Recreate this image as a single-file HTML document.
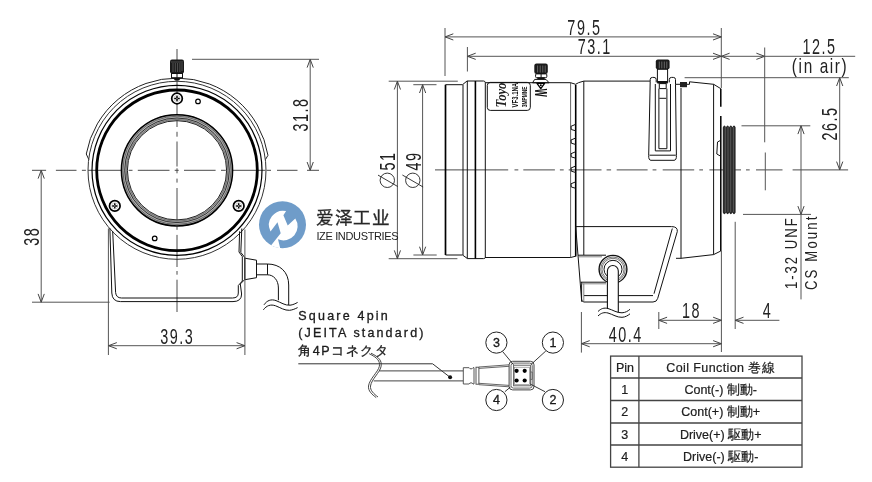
<!DOCTYPE html>
<html lang="ja"><head><meta charset="utf-8">
<style>
html,body{margin:0;padding:0;background:#fff;}
body{width:872px;height:482px;overflow:hidden;position:relative;font-family:"Liberation Sans",sans-serif;}
svg{position:absolute;left:0;top:0;will-change:transform;}
.d{stroke:#555;stroke-width:1;fill:none;}
.o{stroke:#111;stroke-width:1;fill:none;}
.c{stroke:#444;stroke-width:1;fill:none;}
.t{font-family:"Liberation Sans",sans-serif;fill:#222;}
</style></head><body>
<svg width="872" height="482" viewBox="0 0 872 482">
<defs>
<marker id="a" viewBox="-9 -4 10 8" markerWidth="10" markerHeight="8" refX="0" refY="0" orient="auto-start-reverse" markerUnits="userSpaceOnUse">
<path d="M-8.3,-3.1 L0,0 L-8.3,3.1" fill="none" stroke="#444" stroke-width="1"/>
</marker>
</defs>
<!-- CENTER LINES -->
<path d="M32,170.3H46.1M55.9,170.3H76.5M81.9,170.3H85.9M88,170.3H121M128.6,170.3H132.5M137.8,170.3H169.5M174.7,170.3H178.7M184,170.3H215.6M221,170.3H225.5M225.5,170.3H265.5M266.6,170.3H271M277,170.3H297.5M307,170.3H319M177,49V127M177,131.8V136.7M177,141.5V166.5M177,168.3V173.3M177,178.6V182.6M177,188V225M177,226.5V229.8M177,234.9V267M177,271V274.7M177,279.7V312M435,169.9H508.2M514.5,169.9H518.3M523.3,169.9H554.9M559.9,169.9H563.7M568.7,169.9H601.5M606.6,169.9H611.1M616.7,169.9H647.6M652.6,169.9H656.4M662.7,169.9H694.2M699.3,169.9H703M709.4,169.9H741M746,169.9H749.7M756,169.9H782.5M792.6,169.9H848.1" stroke="#4a4a4a" stroke-width="1" fill="none"/>
<!-- FRONT VIEW -->
<g id="front">
<!-- center lines -->
<!-- shroud -->
<path d="M 88.8,159.5 L 86.25,154 A 92.2 92.2 0 0 1 267.97,155.3 L 265.4,159.6" fill="none" stroke="#222" stroke-width="1"/>
<!-- body circles -->
<circle cx="177" cy="170.3" r="89" fill="none" stroke="#333" stroke-width="1"/>
<circle cx="177" cy="170.3" r="85" fill="none" stroke="#000" stroke-width="1.2"/>
<circle cx="177" cy="170.3" r="80.3" fill="none" stroke="#000" stroke-width="2.8"/>
<!-- lens ring -->
<circle cx="177" cy="170.3" r="52.8" fill="none" stroke="#b4b4b4" stroke-width="6.4"/>
<circle cx="177" cy="170.3" r="55.6" fill="none" stroke="#000" stroke-width="1.5"/>
<circle cx="177" cy="170.3" r="54.1" fill="none" stroke="#444" stroke-width="0.7"/>
<circle cx="177" cy="170.3" r="52.3" fill="none" stroke="#222" stroke-width="0.9"/>
<circle cx="177" cy="170.3" r="50.9" fill="none" stroke="#555" stroke-width="0.7"/>
<circle cx="177" cy="170.3" r="49.6" fill="none" stroke="#222" stroke-width="1"/>
<!-- knob -->
<rect x="170" y="59.5" width="14" height="14" rx="2" fill="#1a1a1a"/>
<g stroke="#777" stroke-width="0.6"><line x1="173" y1="63" x2="173" y2="72"/><line x1="175.3" y1="63" x2="175.3" y2="72"/><line x1="177.6" y1="63" x2="177.6" y2="72"/><line x1="179.9" y1="63" x2="179.9" y2="72"/><line x1="182" y1="63" x2="182" y2="71"/></g>
<rect x="171.5" y="73.5" width="11" height="4.2" fill="#fff" stroke="#111" stroke-width="1"/><line x1="177" y1="73.5" x2="177" y2="77.7" stroke="#111" stroke-width="1"/>
<line x1="171" y1="62" x2="183" y2="62" stroke="#666" stroke-width="0.7"/>
<path d="M173,78 L181,78 L179,80.5 L175,80.5 Z" fill="#111"/>
<!-- screws -->
<circle cx="177" cy="98.5" r="5.3" fill="#fff" stroke="#000" stroke-width="1.7"/><path d="M174.8,98.5H179.2M177,96.3V100.7" stroke="#000" stroke-width="1.5" stroke-linecap="round"/><circle cx="177" cy="98.5" r="3.1" fill="none" stroke="#999" stroke-width="0.5"/><circle cx="177" cy="98.5" r="0.55" fill="#fff"/>
<circle cx="114.8" cy="205.9" r="5.3" fill="#fff" stroke="#000" stroke-width="1.7"/><path d="M112.6,205.9H117.0M114.8,203.70000000000002V208.1" stroke="#000" stroke-width="1.5" stroke-linecap="round"/><circle cx="114.8" cy="205.9" r="3.1" fill="none" stroke="#999" stroke-width="0.5"/><circle cx="114.8" cy="205.9" r="0.55" fill="#fff"/>
<circle cx="238.7" cy="205.9" r="5.3" fill="#fff" stroke="#000" stroke-width="1.7"/><path d="M236.5,205.9H240.89999999999998M238.7,203.70000000000002V208.1" stroke="#000" stroke-width="1.5" stroke-linecap="round"/><circle cx="238.7" cy="205.9" r="3.1" fill="none" stroke="#999" stroke-width="0.5"/><circle cx="238.7" cy="205.9" r="0.55" fill="#fff"/>
<circle cx="198" cy="101.4" r="2.3" fill="#fff" stroke="#000" stroke-width="1.2"/>
<circle cx="154.7" cy="238.4" r="2.3" fill="#fff" stroke="#000" stroke-width="1.2"/>
<!-- bracket -->
<path class="o" d="M109.9,228.3 L111.8,293 Q112.2,301.6 120.5,301.6 L233,301.6 Q241.6,301.6 241.6,294 L240.3,284 L244.6,279.7 L244.6,257.3 L240.8,252.4 L241.8,228.5"/>
<path class="o" d="M112.7,231.3 L115.6,292.5 Q116.2,298 121.5,298 L232.5,298 Q238.3,298 238.3,293 L238.3,285.5 L242.3,281 L242.3,256.5 L239,252 L239.6,231.3"/>
<!-- cable -->
<path d="M244.9,258.2 L256.5,260.2 L256.5,277.7 L244.9,279.7 Z" fill="#fff" stroke="#111" stroke-width="1"/>
<path d="M256.5,264 L267.5,264 M256.5,274.8 L267.5,274.8 M267.5,264 L267.5,274.8" class="o"/>
<path class="o" d="M267.5,264 C280,264 288.7,272 288.7,285 L288.7,305"/>
<path class="o" d="M267.5,274.8 C273.5,274.8 278.4,280 278.4,288 L278.4,300.2"/>
<path class="o" d="M264,304.8 C267,300.5 271,298.8 276,300.6 C281,302.5 285,305.6 290,305.2 C293,304.9 295.5,303.6 297.6,302.4"/>
<path class="o" d="M263.4,309.8 C266.5,305.6 270.6,304 275.6,305.8 C280.6,307.7 284.6,310.6 289.6,310.3 C292.6,310 295.2,308.8 297.6,307.6"/>
</g>

<!-- SIDE VIEW -->
<g id="side">
<!-- center line -->
<!-- front cap -->
<path d="M445.5,255 L445.5,84.7" stroke="#000" stroke-width="1.7" fill="none"/>
<path class="o" d="M445.5,84.7 L462.5,84.7 L467,81 L483.5,81 Q485.2,81 485.3,82.7 M445.5,255 L462.5,255 L467.5,258.6 L483.5,258.6 Q485.2,258.6 485.3,257.4"/>
<path class="o" d="M463,84.7 V255 M467.3,81 V258.6 M485.3,82.7 V257.4"/>
<path d="M475.4,81 V258.6" stroke="#000" stroke-width="1.6" fill="none"/>
<!-- label -->
<rect x="487.3" y="82.4" width="43" height="28" rx="3" fill="#fff" stroke="#111" stroke-width="1"/>
<!-- knob 1 -->
<rect x="534.3" y="63.6" width="13.5" height="10.3" rx="2.2" fill="#1a1a1a"/>
<g stroke="#777" stroke-width="0.8"><line x1="537.6" y1="65.5" x2="537.6" y2="72.5"/><line x1="540.2" y1="65.5" x2="540.2" y2="72.5"/><line x1="542.8" y1="65.5" x2="542.8" y2="72.5"/><line x1="545.2" y1="65.5" x2="545.2" y2="72.5"/></g>
<rect x="535.6" y="73.9" width="11.2" height="3.8" rx="1" fill="#fff" stroke="#111" stroke-width="1"/>
<line x1="541.1" y1="74" x2="541.1" y2="77.6" stroke="#111" stroke-width="1"/>
<rect x="537.3" y="77.5" width="7.4" height="2" fill="#111"/>
<path d="M534.7,79.4 L546,79.4 L549.1,82.8 L532.5,82.8 Z" fill="#fff" stroke="#111" stroke-width="1"/>
<path d="M537,83.3 L544.6,83.3 L540.8,88.6 Z" fill="#fff" stroke="#000" stroke-width="1.3" stroke-linejoin="round"/>
<circle cx="540.8" cy="85.3" r="1" fill="#000"/>
<text transform="translate(534.6,92.7) rotate(90) scale(0.5,1)" text-anchor="middle" font-size="17" font-weight="bold" fill="#111" font-family="Liberation Sans">W</text>
<!-- label content -->
<text transform="translate(505.5,95) rotate(-90)" x="-12.4" y="0" textLength="24.8" lengthAdjust="spacingAndGlyphs" font-size="15" font-weight="bold" font-style="italic" fill="#222" font-family="Liberation Serif">Toyo</text>
<text transform="translate(517.6,95.2) rotate(-90)" x="-12.2" y="0" textLength="24.4" lengthAdjust="spacingAndGlyphs" font-size="9" font-weight="bold" fill="#111" font-family="Liberation Sans">VF3.1NA</text>
<text transform="translate(526.8,97) rotate(-90)" x="-10.3" y="0" textLength="20.7" lengthAdjust="spacingAndGlyphs" font-size="7.6" font-weight="bold" fill="#111" font-family="Liberation Sans">3MPMNE</text>
<!-- ring lines -->
<path d="M570.6,82.7 V257.5" stroke="#666" stroke-width="1" fill="none"/><path class="o" d="M583.8,81.1 V255"/>
<path d="M575.7,84.8 V256.5" stroke="#000" stroke-width="1.6" fill="none"/>
<path class="o" d="M485.3,82.7 L570.6,82.7 L575.6,84.3 Q577.5,82.6 583.8,81.1 L650,81.1"/>
<path class="o" d="M485,257.5 L570.6,257.5 L575.7,256.2"/>
<!-- teeth -->
<path class="o" d="M575.7,124.3 L571,126.3 L571.3,129.5 L575.7,130.8 M575.7,138 L571,140 L571.3,143.2 L575.7,144.5 M575.7,151.7 L571,153.7 L571.3,156.9 L575.7,158.2 M575.7,166 L571,168 L571.3,171.2 L575.7,172.5 M575.7,181.8 L571,183.8 L571.3,187 L575.7,188.3"/>
<!-- slot bracket -->
<path class="o" d="M650.2,81.2 L650.2,79.5 Q650.2,77.4 652.5,77.4 L654,77.4 Q656.2,77.4 656.2,79.5 L656.2,82.4 M669.3,82.4 L669.3,79.5 Q669.3,77.4 671.5,77.4 L673.3,77.4 Q675.5,77.4 675.5,79.5 L675.5,84.3"/>
<path class="o" d="M650.2,81.2 L648.7,155.5 M675.5,84.3 L676.4,155.5 M648.7,155.5 Q648.5,160.3 651,160.3 L674,160.3 Q676.6,160.3 676.4,155.5 M649.5,155.2 L675.8,155.2"/>
<path class="o" d="M655.3,84 L655.3,150.9 L670.5,150.9 L670.5,84 M658.9,88.6 L658.9,148.7 L666.9,148.7 L666.9,88.6 M659.3,83.6 H666.2 V88.6 H659.3 Z M659.3,98.3 H666.2"/>
<!-- knob 2 -->
<rect x="655.8" y="59.4" width="13.8" height="9.9" rx="2" fill="#1a1a1a"/>
<g stroke="#888" stroke-width="0.7"><line x1="659.3" y1="61.5" x2="659.3" y2="68.5"/><line x1="661.8" y1="61.5" x2="661.8" y2="68.5"/><line x1="664.3" y1="61.5" x2="664.3" y2="68.5"/><line x1="666.8" y1="61.5" x2="666.8" y2="68.5"/></g>
<rect x="657.4" y="69.3" width="10.2" height="13" fill="#fff" stroke="#111" stroke-width="1"/>
<path d="M657.4,81 H667.6 V83.6 H657.4 Z" fill="#111"/>
<!-- rear body -->
<path class="o" d="M675.5,84.3 L680,84.3 M687,84.3 L689.5,84.3 L689.5,81.8 L713.7,84.3 L720.8,88.7"/>
<rect x="680" y="82" width="7" height="5.2" fill="#222"/>
<path class="o" d="M681,88 V258.3 M713.6,84.3 V254.6 M681,258.3 L713.6,254.6 L720.8,251 M676,258.3 L681,258.3"/>
<path d="M720.8,88.7 V106.7 M720.8,116 V251" stroke="#000" stroke-width="1.5" fill="none"/>
<path class="o" d="M720.3,140.5 L717.5,142 L716.8,154 L720.3,156"/>
<!-- thread -->
<path d="M722.8,127.4 Q724.4,123.8 726.0,127.2 Q727.6,123.8 729.2,127.2 Q730.8,123.8 732.4,127.2 Q734.0,123.8 735.6,127.2 L735.6,212.4 Q734.0,216 732.4,212.4 Q730.8,216 729.2,212.4 Q727.6,216 726.0,212.4 Q724.4,216 722.8,212.4 Z" fill="#2a2a2a"/>
<g stroke="#777" stroke-width="0.6"><line x1="725.3" y1="127" x2="725.3" y2="212"/><line x1="728" y1="127" x2="728" y2="212"/><line x1="730.7" y1="127" x2="730.7" y2="212"/><line x1="733.4" y1="127" x2="733.4" y2="212"/></g>
<!-- foot -->
<path class="o" d="M575.7,226.6 L671.5,226.6 Q677.8,226.6 677.3,231.5 L657.7,298.4 Q656.8,302 653,302 L584,302 Q581.8,302 581.5,299 L575.7,226.6"/>
<path class="o" d="M672.3,228.5 L654,293.7 M584,295.6 L653,295.6 M578,255.2 L606,255.2 M580.6,282.2 L606,282.2 M581.6,282.2 V301.7"/><path d="M578.2,256.8 L602,256.8 M580.8,283.8 L606,283.8 M583.8,283.8 V301.5" stroke="#666" stroke-width="0.8" fill="none"/>
<!-- grommet -->
<circle cx="613" cy="269.3" r="13.9" fill="#fff" stroke="#111" stroke-width="1.4"/>
<circle cx="613" cy="269.3" r="12.3" fill="none" stroke="#555" stroke-width="0.8"/>
<circle cx="613" cy="269.3" r="11" fill="none" stroke="#555" stroke-width="0.8"/>
<circle cx="613" cy="269.3" r="9" fill="none" stroke="#111" stroke-width="1"/>
<path d="M607.4,309 L607.4,271 A5.45,5.45 0 0 1 618.3,271 L618.3,312.5" fill="#fff" stroke="#111" stroke-width="1.1"/>
<path class="o" d="M598,311.5 C601,308.5 604,307.5 608,308.5 C613,310 617,313 622,312.8 C625.5,312.6 628,311 630,309.3"/>
<path class="o" d="M598,316 C601,313 604,312 608,313 C613,314.5 617,317.5 622,317.3 C625.5,317.1 628,315.5 630,313.8"/>
</g>


<!-- side dims -->
<g class="d">
<line x1="445" y1="28" x2="445" y2="76"/>
<line x1="721.3" y1="28" x2="721.3" y2="88"/>
<line x1="445" y1="36.9" x2="721.3" y2="36.9" marker-start="url(#a)" marker-end="url(#a)"/>
<line x1="467.4" y1="47" x2="467.4" y2="71.5"/>
<line x1="467.4" y1="56.3" x2="721.3" y2="56.3" marker-start="url(#a)" marker-end="url(#a)"/>
<line x1="721.3" y1="56.3" x2="764.7" y2="56.3" marker-start="url(#a)" marker-end="url(#a)"/>
<line x1="764.7" y1="56.3" x2="855.2" y2="56.3"/>
<line x1="764.7" y1="47.5" x2="764.7" y2="142.3"/>
<line x1="765.3" y1="152.5" x2="765.3" y2="190.3"/>
<line x1="684.6" y1="77.7" x2="848.8" y2="77.7"/>
<line x1="839.7" y1="77.7" x2="839.7" y2="169.9" marker-start="url(#a)" marker-end="url(#a)"/>
<line x1="741.5" y1="125.8" x2="810.3" y2="125.8"/>
<line x1="743" y1="214.4" x2="811" y2="214.4"/>
<line x1="801" y1="125.8" x2="801" y2="214.4" marker-start="url(#a)" marker-end="url(#a)"/>
<line x1="801" y1="214.4" x2="801" y2="299.4"/>
<line x1="388.7" y1="81.2" x2="457.8" y2="81.2"/>
<line x1="388.7" y1="258.7" x2="457.4" y2="258.7"/>
<line x1="397.4" y1="81.2" x2="397.4" y2="258.7" marker-start="url(#a)" marker-end="url(#a)"/>
<line x1="413.3" y1="84.7" x2="436.5" y2="84.7"/>
<line x1="413.4" y1="255" x2="436.7" y2="255"/>
<line x1="422.6" y1="84.7" x2="422.6" y2="255" marker-start="url(#a)" marker-end="url(#a)"/>
<line x1="721.4" y1="251" x2="721.4" y2="352"/>
<line x1="735.2" y1="221.8" x2="735.2" y2="329"/>
<line x1="658.8" y1="312" x2="658.8" y2="329"/>
<line x1="658.8" y1="320.3" x2="721.4" y2="320.3" marker-start="url(#a)" marker-end="url(#a)"/>
<line x1="735.2" y1="320.3" x2="779.4" y2="320.3" marker-start="url(#a)"/>
<line x1="581.4" y1="312" x2="581.4" y2="352.6"/>
<line x1="581.4" y1="343.7" x2="721.4" y2="343.7" marker-start="url(#a)" marker-end="url(#a)"/>
</g>

<!-- front dims -->
<g class="d">
<line x1="192" y1="59.3" x2="319" y2="59.3"/>
<line x1="310.2" y1="59.3" x2="310.2" y2="170.3" marker-start="url(#a)" marker-end="url(#a)"/>
<line x1="32" y1="302.2" x2="109.6" y2="302.2"/>
<line x1="41.2" y1="170.3" x2="41.2" y2="302.2" marker-start="url(#a)" marker-end="url(#a)"/>
<line x1="108.4" y1="228.4" x2="108.4" y2="355"/>
<line x1="244.9" y1="229.5" x2="244.9" y2="355"/>
<line x1="108.5" y1="345.7" x2="244.9" y2="345.7" marker-start="url(#a)" marker-end="url(#a)"/>
</g>

<!-- CONNECTOR -->
<g id="conn">
<text x="298.3" y="319.6" font-size="12.5" letter-spacing="2.2" class="t" fill="#111" stroke="#111" stroke-width="0.3">Square 4pin</text>
<text x="298.3" y="337.3" font-size="12.5" letter-spacing="2.15" class="t" fill="#111" stroke="#111" stroke-width="0.3">(JEITA standard)</text>
<text x="298.3" y="355" font-size="12.5" letter-spacing="1.5" class="t" fill="#111" stroke="#111" stroke-width="0.3">角4Pコネクタ</text>
<path d="M298.3,363.8 H432.6 L450.1,377.3" stroke="#333" stroke-width="1" fill="none"/>
<circle cx="450.1" cy="377.3" r="2" fill="#111"/>
<path d="M379.3,370.9 H463.3 M373.7,380.9 H463.3" stroke="#444" stroke-width="1" fill="none"/>
<path d="M369.2,353.7 C377,357.5 380.5,361 379.3,366.5 C378,372 369.5,379 368.5,386 C368,391 372,394.5 376.2,397.6" stroke="#333" stroke-width="0.9" fill="none"/>
<path d="M371,353.2 C379,357 382.3,361 381,366.8 C379.8,372.5 371.5,379.3 370.5,386 C370,390.5 374,394 378,397" stroke="#333" stroke-width="0.9" fill="none"/>
<path d="M463.3,367.7 H469.1 A2.2,2.2 0 0 0 473,367.7 H474 V384 H473 A2.2,2.2 0 0 0 469.1,384 H463.3 Z" fill="#fff" stroke="#444" stroke-width="0.9"/>
<rect x="476" y="367.2" width="2.9" height="17" fill="#fff" stroke="#444" stroke-width="0.9"/>
<path d="M478.9,367 L509.1,364.8 M478.9,368.4 L509.1,366.3 M478.9,383.3 L509.1,385.4 M478.9,384.7 L509.1,386.8" stroke="#555" stroke-width="0.9" fill="none"/>
<rect x="509.1" y="361.3" width="24.9" height="28.6" rx="3.5" fill="#fff" stroke="#444" stroke-width="1"/>
<rect x="511" y="363.1" width="21.2" height="25" rx="2.5" fill="none" stroke="#555" stroke-width="0.9"/>
<rect x="513.6" y="365.2" width="16.8" height="20.6" fill="none" stroke="#555" stroke-width="0.9"/>
<rect x="514.4" y="367.2" width="15" height="17.2" fill="none" stroke="#777" stroke-width="0.6"/>
<path d="M530.5,372 H532.2 V379.4 H530.5" fill="none" stroke="#555" stroke-width="0.8"/>
<g fill="#000"><circle cx="516.6" cy="370.8" r="2.1"/><circle cx="524.7" cy="370.8" r="2.1"/><circle cx="516.6" cy="380.5" r="2.1"/><circle cx="524.7" cy="380.5" r="2.1"/></g>
<path d="M502.6,351.5 L513.5,364.7 M545.8,351 L531,364.5 M504.9,391.7 L510.5,387 M545,391.7 L530.5,384.2" stroke="#222" stroke-width="0.9" fill="none"/>
<g fill="#fff" stroke="#222" stroke-width="1"><circle cx="496.4" cy="342.6" r="10.6"/><circle cx="552.9" cy="342.6" r="10.6"/><circle cx="496.4" cy="400" r="10.6"/><circle cx="552.9" cy="400" r="10.6"/></g>
<g font-size="12.5" text-anchor="middle" class="t" fill="#111" stroke="#111" stroke-width="0.3">
<text x="496.4" y="347">3</text><text x="552.9" y="347">1</text><text x="496.4" y="404.4">4</text><text x="552.9" y="404.4">2</text>
</g>
</g>
<!-- TABLE -->
<g id="table">
<rect x="610.6" y="356.1" width="191.4" height="111.1" fill="none" stroke="#444" stroke-width="1.3"/>
<path d="M638.9,356.1 V467.2 M610.6,378 H802 M610.6,400.5 H802 M610.6,423 H802 M610.6,445 H802" stroke="#444" stroke-width="1.3" fill="none"/>
<g font-size="12.5" text-anchor="middle" class="t" fill="#151515" stroke="#151515" stroke-width="0.2">
<text x="625" y="371.8">Pin</text>
<text x="624.8" y="394">1</text><text x="624.8" y="416.3">2</text><text x="624.8" y="438.6">3</text><text x="624.8" y="460.8">4</text>
<text x="720.7" y="371.8" letter-spacing="0.4">Coil Function 巻線</text>
<text x="720.7" y="394">Cont(-) 制動-</text>
<text x="720.7" y="416.3">Cont(+) 制動+</text>
<text x="720.7" y="438.6">Drive(+) 駆動+</text>
<text x="720.7" y="460.8">Drive(-) 駆動-</text>
</g>
</g>
<!-- WATERMARK -->
<g id="wm">
<circle cx="282.5" cy="224.7" r="23.5" fill="#6f9cc9"/>
<path fill="#fff" d="M286.1,211.1 L283.4,215.2 L287.7,225.4 L295.3,218.4 A14.2,14.2 0 0 1 278,239.3 L280.2,248.3 A23.5,23.5 0 0 1 271,245.6 L280.7,233.3 L277.5,222.2 L270.5,231.4 A14.2,14.2 0 0 1 286.1,211.1 Z"/>
<text x="316.4" y="224" font-size="17.6" class="t" fill="#3a3a3a" stroke="#3a3a3a" stroke-width="0.4" letter-spacing="0.4" lang="zh-CN">爱泽工业</text>
<text x="316.4" y="239.6" font-size="11" class="t" fill="#9c9c9c" letter-spacing="-0.35">IZE INDUSTRIES</text>
</g>

<!-- dim texts -->
<g>
<text transform="translate(177.3,343.9) scale(0.67,1)" text-anchor="middle" font-size="21.5" letter-spacing="2.26" class="t">39.3</text>
<text transform="translate(39.0,236.3) rotate(-90) scale(0.67,1)" text-anchor="middle" font-size="21.5" letter-spacing="2.26" class="t">38</text>
<text transform="translate(307.8,114.4) rotate(-90) scale(0.67,1)" text-anchor="middle" font-size="21.5" letter-spacing="2.26" class="t">31.8</text>
<text transform="translate(584.4,34.8) scale(0.67,1)" text-anchor="middle" font-size="21.5" letter-spacing="2.26" class="t">79.5</text>
<text transform="translate(594.7,54.1) scale(0.67,1)" text-anchor="middle" font-size="21.5" letter-spacing="2.26" class="t">73.1</text>
<text transform="translate(819.5,54.1) scale(0.67,1)" text-anchor="middle" font-size="21.5" letter-spacing="2.26" class="t">12.5</text>
<text transform="translate(820.1,72.5) scale(0.75,1)" text-anchor="middle" font-size="20.5" letter-spacing="2.15" class="t">(in air)</text>
<text transform="translate(837.4,123.4) rotate(-90) scale(0.67,1)" text-anchor="middle" font-size="21.5" letter-spacing="2.26" class="t">26.5</text>
<text transform="translate(394.6,161.0) rotate(-90) scale(0.67,1)" text-anchor="middle" font-size="21.5" letter-spacing="2.26" class="t">51</text>
<text transform="translate(420.5,161.0) rotate(-90) scale(0.67,1)" text-anchor="middle" font-size="21.5" letter-spacing="2.26" class="t">49</text>
<text transform="translate(691.4,317.7) scale(0.67,1)" text-anchor="middle" font-size="21.5" letter-spacing="2.26" class="t">18</text>
<text transform="translate(767.6,317.7) scale(0.67,1)" text-anchor="middle" font-size="21.5" letter-spacing="2.26" class="t">4</text>
<text transform="translate(625.8,341.7) scale(0.67,1)" text-anchor="middle" font-size="21.5" letter-spacing="2.26" class="t">40.4</text>
<text transform="translate(797.2,253.75) rotate(-90) scale(0.78,1)" x="-45.3" textLength="90.8" lengthAdjust="spacing" font-size="16.8" class="t">1-32 UNF</text>
<text transform="translate(817,253.35) rotate(-90) scale(0.78,1)" x="-47" textLength="94.1" lengthAdjust="spacing" font-size="16.8" class="t">CS Mount</text>
</g>
<g fill="none" stroke="#222" stroke-width="0.9">
<circle cx="387.3" cy="180.3" r="7.2"/><line x1="378" y1="175.1" x2="397.7" y2="186.5"/>
<circle cx="412.8" cy="180.3" r="7.2"/><line x1="402.4" y1="175" x2="423.1" y2="187"/>
</g>
</svg>
</body></html>
